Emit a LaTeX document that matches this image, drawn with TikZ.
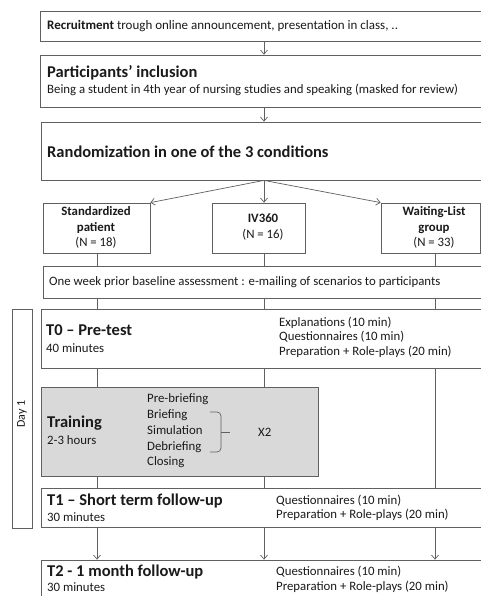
\documentclass[tikz,border=0pt]{standalone}
\usepackage{fontspec}
\setmainfont{Carlito}
\usetikzlibrary{arrows.meta}
\definecolor{ln}{HTML}{606060}
\definecolor{tx}{HTML}{1A1A1A}
\definecolor{trfill}{HTML}{D9D9D9}
\begin{document}
\begin{tikzpicture}[x=1pt,y=-1pt,
 box/.style={draw=ln, line width=0.8pt, rectangle, inner sep=0pt},
 txt/.style={text=tx, inner sep=0pt, anchor=west, align=left, font=\fontsize{12.8}{14.5}\selectfont},
 ttl/.style={text=tx, inner sep=0pt, anchor=west, font=\fontsize{16.5}{18}\selectfont\bfseries},
 ctr/.style={text=tx, inner sep=0pt, align=center, font=\fontsize{12.8}{15.5}\selectfont},
 link/.style={draw=ln, line width=0.7pt},
 arr/.style={link, -{Straight Barb[length=4pt,width=7pt]}},
]
\useasboundingbox (0,0) rectangle (481,596);
\clip (0,0) rectangle (481,596);
\fill[white] (0,0) rectangle (481,596);
% columns
\coordinate (c1) at (97,0);
\coordinate (c2) at (264,0);
\coordinate (c3) at (435,0);
% boxes
\node[box, minimum width=450pt, minimum height=30pt] (rec) at (265,26) {};
\node[box, minimum width=450pt, minimum height=52pt] (inc) at (265,81) {};
\node[box, minimum width=449pt, minimum height=58pt] (rand) at (265.5,151) {};
\node[box, minimum width=107pt, minimum height=50pt] (sp) at (96.5,228) {};
\node[box, minimum width=93pt, minimum height=50pt] (iv) at (258.5,228) {};
\node[box, minimum width=99pt, minimum height=50pt] (wl) at (430.5,228) {};
\node[box, minimum width=447pt, minimum height=32pt] (mail) at (266.5,282) {};
\node[box, minimum width=449pt, minimum height=59pt] (t0) at (265.5,338.5) {};
\node[box, fill=trfill, minimum width=277pt, minimum height=89pt] (tr) at (179.5,431.5) {};
\node[box, minimum width=449pt, minimum height=39pt] (t1) at (265.5,507.5) {};
\node[box, minimum width=449pt, minimum height=70pt] (t2) at (265.5,595) {};
\node[box, minimum width=20pt, minimum height=219pt] (day) at (22,418.5) {};
% texts
\node[txt, font=\fontsize{13}{14}\selectfont] (trec) at (47,26) {\textbf{Recruitment} trough online announcement, presentation in class, ..};
\node[ttl] (tinc) at (47,73) {Participants’ inclusion};
\node[txt] (tinc2) at (47,90) {Being a student in 4th year of nursing studies and speaking (masked for review)};
\node[ttl] (trand) at (47,152) {Randomization in one of the 3 conditions};
\node[ctr] (tsp) at (96,227.5) {\textbf{Standardized}\\\textbf{patient}\\(N = 18)};
\node[ctr] (tiv) at (263,227) {\textbf{IV360}\\(N = 16)};
\node[ctr] (twl) at (434,227.5) {\textbf{Waiting-List}\\\textbf{group}\\(N = 33)};
\node[txt] (tmail) at (49,282) {One week prior baseline assessment : e-mailing of scenarios to participants};
\node[ttl] (tt0) at (46,330) {T0 – Pre-test};
\node[txt] (tt0b) at (46,348) {40 minutes};
\node[txt] (tt0c) at (279,337) {Explanations (10 min)\\Questionnaires (10 min)\\Preparation + Role-plays (20 min)};
\node[ttl] (ttr) at (47,423) {Training};
\node[txt] (ttrb) at (47,440) {2-3 hours};
\node[txt, font=\fontsize{12.8}{15.75}\selectfont] (ttrc) at (147,431) {Pre-briefing\\Briefing\\Simulation\\Debriefing\\Closing};
\node[txt] (tx2) at (258,432) {X2};
\node[ttl] (tt1) at (47,501) {T1 – Short term follow-up};
\node[txt] (tt1b) at (47,517) {30 minutes};
\node[txt] (tt1c) at (276,508) {Questionnaires (10 min)\\Preparation + Role-plays (20 min)};
\node[ttl] (tt2) at (47,572) {T2 - 1 month follow-up};
\node[txt] (tt2b) at (47,587) {30 minutes};
\node[txt] (tt2c) at (276,579.5) {Questionnaires (10 min)\\Preparation + Role-plays (20 min)};
\node[text=tx, rotate=90, inner sep=0pt, font=\fontsize{12}{13}\selectfont] (tday) at (22,414) {Day 1};
% brace
\draw[link, rounded corners=4pt] (210,412) -- (221,412) -- (221,452) -- (210,452);
\draw[link] (221,432) -- (230,432);
% connectors
\draw[arr] (rec.south -| c2) -- (inc.north -| c2);
\draw[arr] (inc.south -| c2) -- (rand.north -| c2);
\draw[arr] (rand.south -| c2) -- (sp.north east);
\draw[arr] (rand.south -| c2) -- (iv.north -| c2);
\draw[arr] (rand.south -| c2) -- (wl.north west);
\draw[link] (sp.south -| c1) -- (mail.north -| c1);
\draw[link] (iv.south -| c2) -- (mail.north -| c2);
\draw[link] (wl.south -| c3) -- (mail.north -| c3);
\foreach \c in {c1,c2,c3} {
  \draw[link] (mail.south -| \c) -- (t0.north -| \c);
  \draw[arr] (t1.south -| \c) -- (t2.north -| \c);
}
\draw[link] (t0.south -| c1) -- (tr.north -| c1);
\draw[link] (t0.south -| c2) -- (tr.north -| c2);
\draw[link] (t0.south -| c3) -- (t1.north -| c3);
\draw[link] (tr.south -| c1) -- (t1.north -| c1);
\draw[link] (tr.south -| c2) -- (t1.north -| c2);
\end{tikzpicture}
\end{document}
